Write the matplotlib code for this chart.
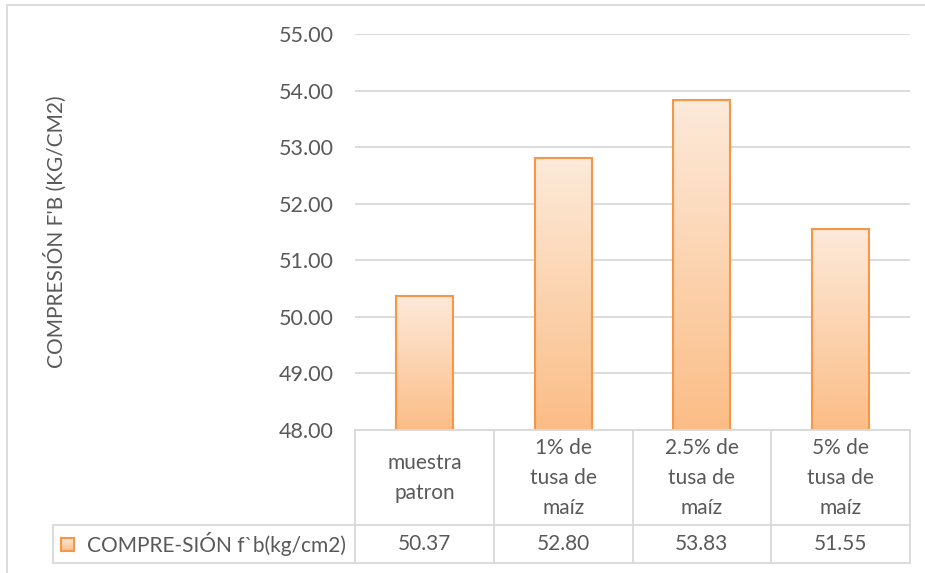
import numpy as np
import matplotlib.pyplot as plt
from matplotlib.patches import Rectangle
from matplotlib.lines import Line2D
import matplotlib.transforms as mtransforms
from matplotlib.colors import LinearSegmentedColormap

# datos
categorias = ['muestra\npatron', '1% de\ntusa de\nmaíz', '2.5% de\ntusa de\nmaíz', '5% de\ntusa de\nmaíz']
valores = [50.37, 52.80, 53.83, 51.55]
serie = 'COMPRE-SIÓN f`b(kg/cm2)'
titulo_y = "COMPRESIÓN F'B (KG/CM2)"
ticks_y = [48, 49, 50, 51, 52, 53, 54, 55]

plt.rcParams['font.family'] = ['Lato', 'DejaVu Sans']
gris_txt = '#595959'
gris_lin = '#d9d9d9'
naranja = '#f79646'
degradado = LinearSegmentedColormap.from_list('deg', ['#fbbd86', '#fdeada'])
fs = 15

W, H = 925, 573
fig = plt.figure(figsize=(W / 100, H / 100), dpi=100)

# marco exterior
fig.patches.append(Rectangle((7 / W, -0.1), 1.2, (H - 5) / H + 0.1, transform=fig.transFigure,
                             fill=False, edgecolor=gris_lin, linewidth=1.3))

x0, x1, ytop, ybot = 355, 910, 34, 430
ax = fig.add_axes([x0 / W, (H - ybot) / H, (x1 - x0) / W, (ybot - ytop) / H])
ax.set_yticks(ticks_y)
ax.set_yticklabels([f'{t:.2f}' for t in ticks_y], fontsize=15.5, color=gris_txt)
ax.tick_params(axis='y', length=0, pad=15.5)
ax.set_xticks([])
for s in ax.spines.values():
    s.set_visible(False)
ax.grid(axis='y', color=gris_lin, linewidth=1.3)
ax.set_axisbelow(True)

x = np.arange(len(valores))
barras = ax.bar(x, valores, width=0.41, color='none', edgecolor=naranja, linewidth=1.5, zorder=3)
grad = np.linspace(0, 1, 256).reshape(-1, 1)
for b in barras:
    bx, bw, bh = b.get_x(), b.get_width(), b.get_height()
    im = ax.imshow(grad, cmap=degradado, aspect='auto', origin='lower',
                   extent=[bx, bx + bw, 48, bh], zorder=2)
    im.set_clip_path(b)
ax.set_xlim(-0.5, 3.5)
ax.set_ylim(48, 55)

fig.text(55 / W, (H - 232) / H, titulo_y, rotation=90, ha='center', va='center',
         fontsize=fs, color=gris_txt)

# tabla de datos
def fy(py):
    return (H - py) / H

def fx(px):
    return px / W

y_cab, y_fila, y_fin, x_leg = 430, 525, 563, 53
lineas = [
    ([x0, x1], [y_cab, y_cab]),
    ([x_leg, x1], [y_fila, y_fila]),
    ([x_leg, x1], [y_fin, y_fin]),
    ([x_leg, x_leg], [y_fila, y_fin]),
]
for i in range(len(valores) + 1):
    xp = x0 + i * (x1 - x0) / len(valores)
    lineas.append(([xp, xp], [y_cab, y_fin]))
for xs, ys in lineas:
    fig.add_artist(Line2D([fx(v) for v in xs], [fy(v) for v in ys], color=gris_lin, linewidth=1.3))

trans = mtransforms.blended_transform_factory(ax.transData, fig.transFigure)
for i, (c, v) in enumerate(zip(categorias, valores)):
    ax.text(i, fy(478), c, transform=trans, ha='center', va='center',
            fontsize=fs, color=gris_txt, linespacing=1.6, clip_on=False)
    ax.text(i, fy(544), f'{v:.2f}', transform=trans, ha='center', va='center',
            fontsize=fs, color=gris_txt, clip_on=False)

# leyenda en la tabla
lax = fig.add_axes([fx(61), fy(551), fx(13), 13 / H])
lax.imshow(grad, cmap=degradado, aspect='auto', origin='lower', extent=[0, 1, 0, 1])
lax.add_patch(Rectangle((0, 0), 1, 1, fill=False, edgecolor=naranja, linewidth=1.5, clip_on=False))
lax.set_xlim(0, 1)
lax.set_ylim(0, 1)
lax.axis('off')
fig.text(fx(87), fy(544), serie, ha='left', va='center', fontsize=fs, color=gris_txt)

fig.savefig('out.png', dpi=100)
